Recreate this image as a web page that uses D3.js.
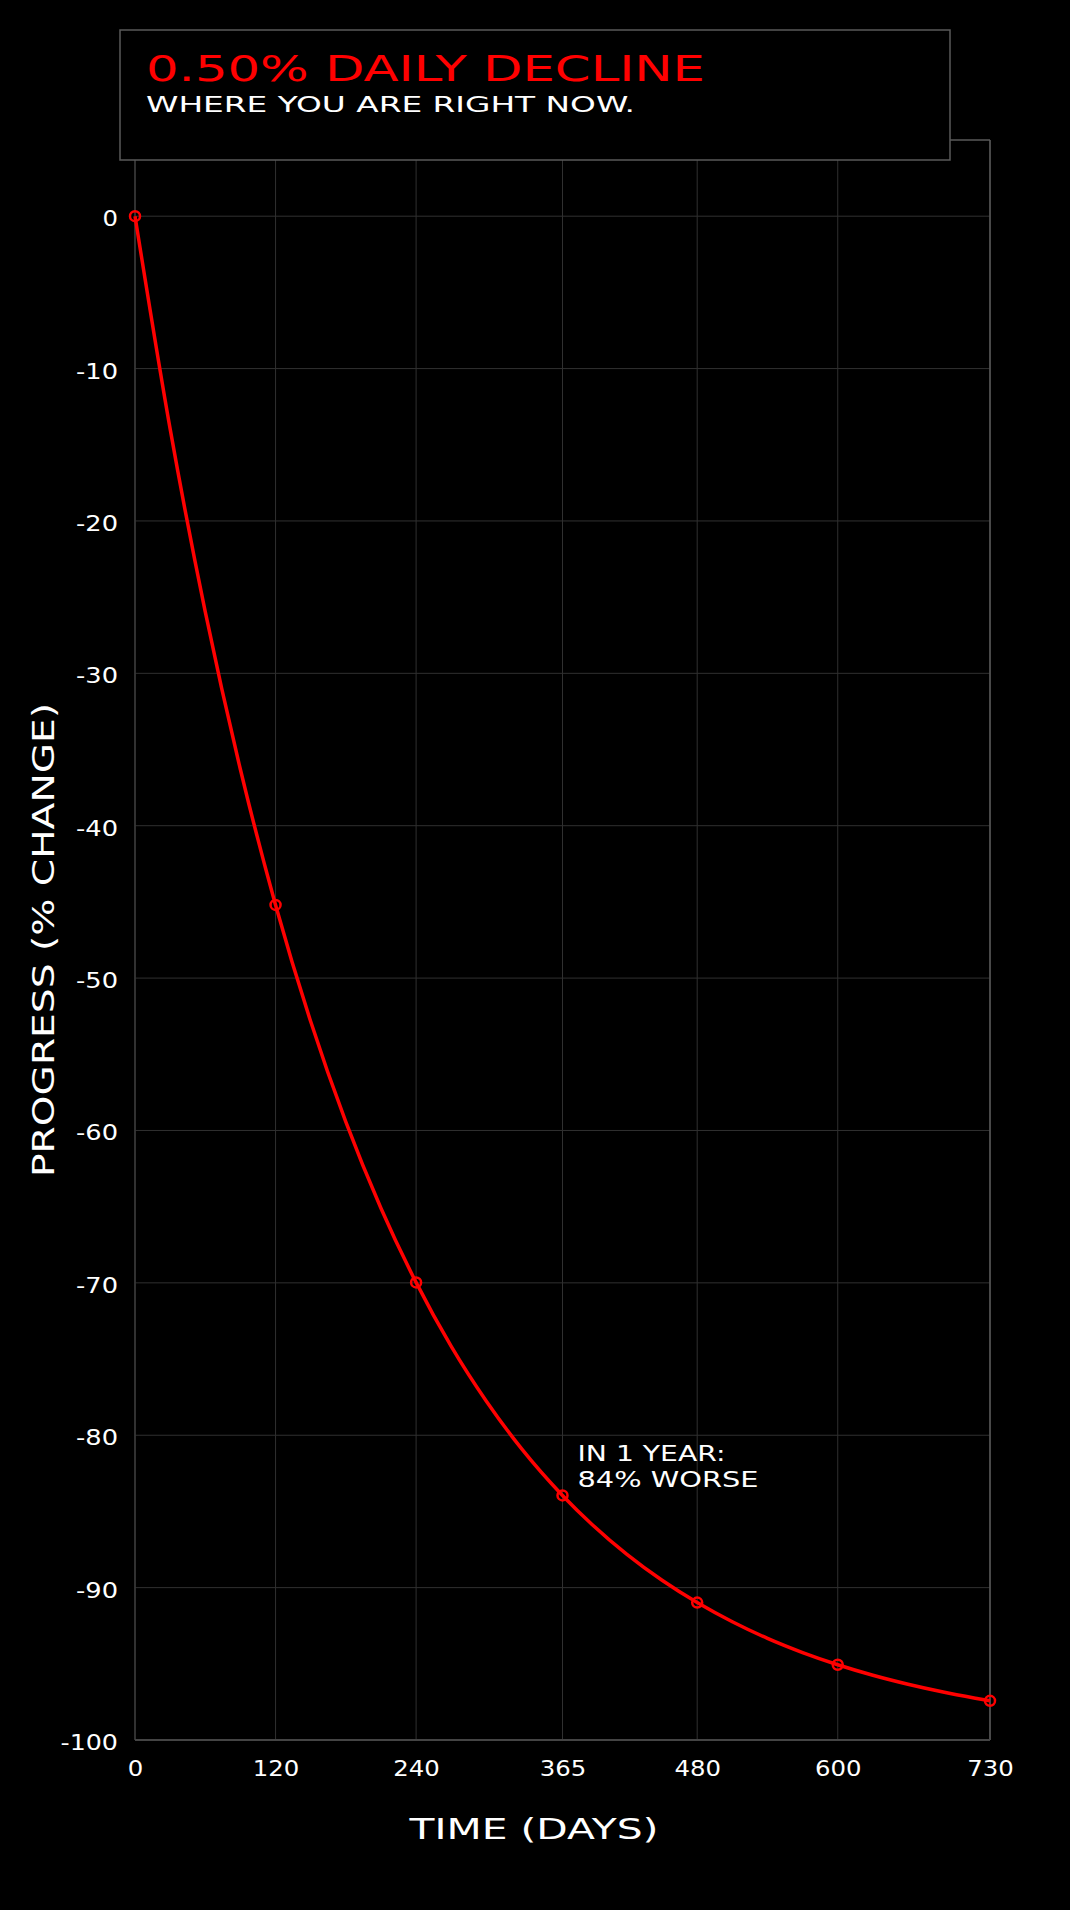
<!DOCTYPE html>
<html>
<head>
<meta charset="utf-8">
<script src="https://cdn.jsdelivr.net/npm/d3@7"></script>
<style>
  html, body { margin: 0; padding: 0; background: #000; }
  svg { display: block; }
  text { font-family: "DejaVu Sans", sans-serif; }
</style>
</head>
<body>
<svg id="chart" width="1070" height="1910"></svg>
<script>
// ---- data ----
const titleText = "0.50% DAILY DECLINE";
const subtitleText = "WHERE YOU ARE RIGHT NOW.";
const xLabelText = "TIME (DAYS)";
const yLabelText = "PROGRESS (% CHANGE)";
const annotationLines = ["IN 1 YEAR:", "84% WORSE"];
const annotationDay = 365;
const xTicks = [0, 120, 240, 365, 480, 600, 730];
const yTicks = [0, -10, -20, -30, -40, -50, -60, -70, -80, -90, -100];
// smooth curve
const lineDays   = [0, 30, 60, 90, 120, 150, 180, 210, 240, 270, 300, 330, 365, 390, 420, 450, 480, 510, 540, 570, 600, 630, 660, 690, 720, 730];
const lineValues = [0, -13.96, -25.97, -36.31, -45.20, -52.85, -59.44, -65.10, -69.97, -74.17, -77.77, -80.88, -83.95, -85.84, -87.82, -89.52, -90.98, -92.24, -93.33, -94.26, -95.06, -95.75, -96.34, -96.85, -97.29, -97.43];
// marked points
const markerDays   = [0, 120, 240, 365, 480, 600, 730];
const markerValues = [0, -45.20, -69.97, -83.95, -90.98, -95.06, -97.43];

(function () {
// ---- layout ----
const svg = d3.select("#chart");
const pL = 135, pR = 990, pT = 140, pB = 1740;
const x = d3.scaleLinear().domain([0, 730]).range([pL, pR]);
const y = d3.scaleLinear().domain([-100, 5]).range([pB, pT]);
const fmt = d => String(d);
const labelLen = s => s.replace(/-/g, "").length * 15.5 + (s.match(/-/g) || []).length * 11;

svg.append("rect").attr("width", 1070).attr("height", 1910).attr("fill", "#000");

// grid
const grid = svg.append("g");
grid.selectAll(".gx").data(xTicks).join("line")
  .attr("x1", d => x(d)).attr("x2", d => x(d))
  .attr("y1", pT).attr("y2", pB)
  .attr("stroke", "#303030").attr("stroke-width", 1);
grid.selectAll(".gy").data(yTicks).join("line")
  .attr("x1", pL).attr("x2", pR)
  .attr("y1", d => y(d)).attr("y2", d => y(d))
  .attr("stroke", "#303030").attr("stroke-width", 1);

// frame
svg.append("line").attr("x1", pL).attr("x2", pR).attr("y1", pT).attr("y2", pT)
  .attr("stroke", "#5a5a5a").attr("stroke-width", 1.5);
svg.append("line").attr("x1", pR).attr("x2", pR).attr("y1", pT).attr("y2", pB)
  .attr("stroke", "#5a5a5a").attr("stroke-width", 1.5);
svg.append("line").attr("x1", pL).attr("x2", pL).attr("y1", pT).attr("y2", pB)
  .attr("stroke", "#3a3a3a").attr("stroke-width", 1.5);
svg.append("line").attr("x1", pL).attr("x2", pR).attr("y1", pB).attr("y2", pB)
  .attr("stroke", "#444").attr("stroke-width", 2);

// axes (labels only)
const yAxis = d3.axisLeft(y).tickValues(yTicks).tickSize(0).tickPadding(17).tickFormat(fmt);
const gy = svg.append("g").attr("transform", `translate(${pL},0)`).call(yAxis);
gy.select(".domain").remove();
gy.selectAll("text").attr("fill", "#fff").attr("font-size", 21)
  .attr("dy", "0.45em")
  .attr("textLength", d => labelLen(fmt(d))).attr("lengthAdjust", "spacingAndGlyphs");

const xAxis = d3.axisBottom(x).tickValues(xTicks).tickSize(0).tickPadding(0).tickFormat(fmt);
const gx = svg.append("g").attr("transform", `translate(0,${pB})`).call(xAxis);
gx.select(".domain").remove();
gx.selectAll("text").attr("fill", "#fff").attr("font-size", 21)
  .attr("y", 36).attr("dy", 0)
  .attr("textLength", d => labelLen(fmt(d))).attr("lengthAdjust", "spacingAndGlyphs");

// line
const line = d3.line().x((d, i) => x(lineDays[i])).y(d => y(d)).curve(d3.curveMonotoneX);
svg.append("path").datum(lineValues).attr("d", line)
  .attr("fill", "none").attr("stroke", "#ff0000").attr("stroke-width", 3.5);

// markers
svg.selectAll(".mk").data(markerValues).join("circle")
  .attr("cx", (d, i) => x(markerDays[i])).attr("cy", d => y(d))
  .attr("r", 5).attr("fill", "none").attr("stroke", "#ff0000").attr("stroke-width", 2.5);

// annotation
const annIdx = markerDays.indexOf(annotationDay);
const ann = svg.append("text").attr("fill", "#fff").attr("font-size", 21);
annotationLines.forEach((t, i) => {
  ann.append("tspan").attr("x", x(annotationDay) + 15)
    .attr("y", y(markerValues[annIdx]) - 34 + i * 26)
    .attr("textLength", i === 0 ? 148 : 181).attr("lengthAdjust", "spacingAndGlyphs")
    .text(t);
});

// axis titles
svg.append("text").attr("x", 534).attr("y", 1839).attr("text-anchor", "middle")
  .attr("fill", "#fff").attr("font-size", 29)
  .attr("textLength", 249).attr("lengthAdjust", "spacingAndGlyphs").text(xLabelText);
svg.append("text").attr("transform", "translate(54,940) rotate(-90)").attr("text-anchor", "middle")
  .attr("fill", "#fff").attr("font-size", 30)
  .attr("textLength", 474).attr("lengthAdjust", "spacingAndGlyphs").text(yLabelText);

// title box
svg.append("rect").attr("x", 120).attr("y", 30).attr("width", 830).attr("height", 130)
  .attr("fill", "#000").attr("stroke", "#5a5a5a").attr("stroke-width", 1.5);
svg.append("text").attr("x", 146).attr("y", 81).attr("fill", "#ff0000").attr("font-size", 35.5)
  .attr("textLength", 559).attr("lengthAdjust", "spacingAndGlyphs").text(titleText);
svg.append("text").attr("x", 146).attr("y", 112).attr("fill", "#fff").attr("font-size", 22)
  .attr("textLength", 489).attr("lengthAdjust", "spacingAndGlyphs").text(subtitleText);
})();
</script>
</body>
</html>
